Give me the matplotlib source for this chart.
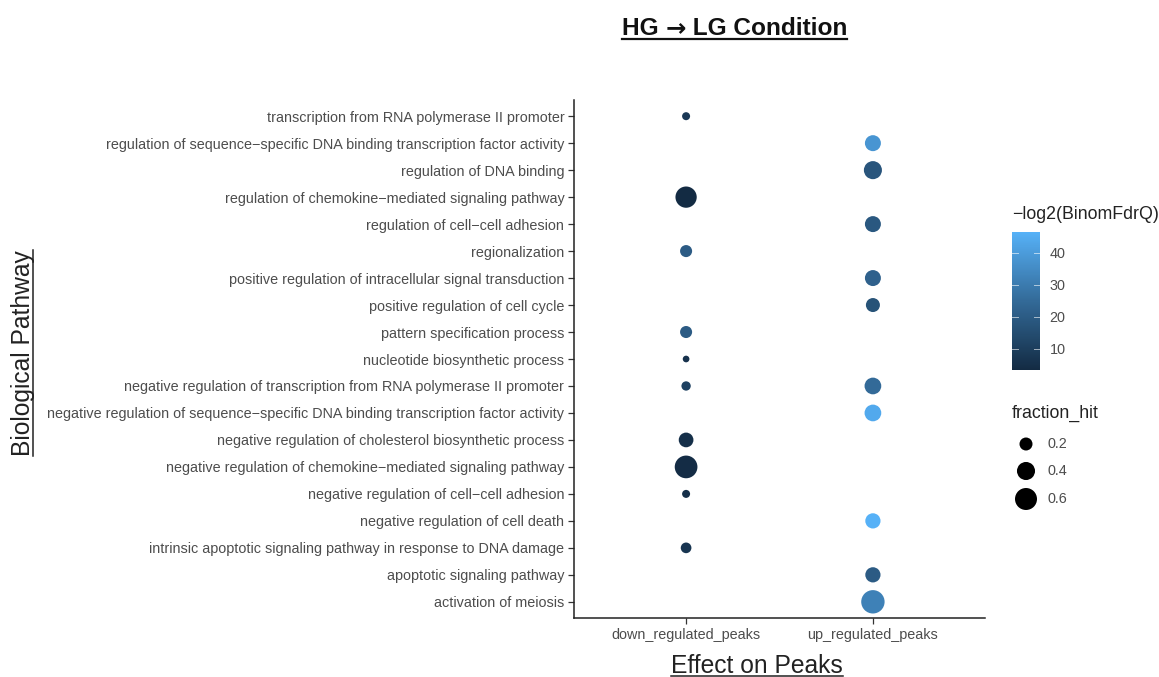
import matplotlib
matplotlib.use("Agg")
import matplotlib.pyplot as plt
import numpy as np
from matplotlib.colors import LinearSegmentedColormap, Normalize
from matplotlib.lines import Line2D

plt.rcParams['font.family'] = ['Liberation Sans', 'DejaVu Sans']

pathways = [
    "transcription from RNA polymerase II promoter",
    "regulation of sequence\u2212specific DNA binding transcription factor activity",
    "regulation of DNA binding",
    "regulation of chemokine\u2212mediated signaling pathway",
    "regulation of cell\u2212cell adhesion",
    "regionalization",
    "positive regulation of intracellular signal transduction",
    "positive regulation of cell cycle",
    "pattern specification process",
    "nucleotide biosynthetic process",
    "negative regulation of transcription from RNA polymerase II promoter",
    "negative regulation of sequence\u2212specific DNA binding transcription factor activity",
    "negative regulation of cholesterol biosynthetic process",
    "negative regulation of chemokine\u2212mediated signaling pathway",
    "negative regulation of cell\u2212cell adhesion",
    "negative regulation of cell death",
    "intrinsic apoptotic signaling pathway in response to DNA damage",
    "apoptotic signaling pathway",
    "activation of meiosis",
]
effects = ["down_regulated_peaks", "up_regulated_peaks"]

# rows (pathway index), fraction_hit and -log2(BinomFdrQ) per effect
down_idx = [0, 3, 5, 8, 9, 10, 12, 13, 14, 16]
down_frac = [0.067, 0.56, 0.17, 0.17, 0.042, 0.096, 0.26, 0.64, 0.067, 0.13]
down_q = [8, 3.4, 20, 20, 6, 11, 5, 4, 5, 7]

up_idx = [1, 2, 4, 6, 7, 10, 11, 15, 17, 18]
up_frac = [0.31, 0.40, 0.31, 0.31, 0.235, 0.34, 0.34, 0.28, 0.28, 0.68]
up_q = [38, 18, 19, 22, 17, 25, 44, 46.5, 20, 32]

size_breaks = [0.2, 0.4, 0.6]
cbar_ticks = [10, 20, 30, 40]

cmap = LinearSegmentedColormap.from_list("gg", ["#132B43", "#336A98", "#56B1F7"])
allq = down_q + up_q
norm = Normalize(vmin=min(allq), vmax=max(allq))


def area(f):
    # marker area in pt^2, linear in fraction_hit
    return (11.5 + 787 * np.asarray(f)) * 0.5184


W, H = 1159, 677
fig = plt.figure(figsize=(W / 100, H / 100), dpi=100)
ax = fig.add_axes([574 / W, 1 - 618 / H, (985 - 574) / W, (618 - 100) / H])

ax.scatter(np.zeros(len(down_idx)), down_idx, s=area(down_frac), c=down_q,
           cmap=cmap, norm=norm, edgecolors="none", zorder=3)
sc = ax.scatter(np.ones(len(up_idx)), up_idx, s=area(up_frac), c=up_q,
                cmap=cmap, norm=norm, edgecolors="none", zorder=3)

ax.set_xlim(-0.6, 1.6)
ax.set_ylim(len(pathways) - 1 + 0.6, -0.6)
ax.set_yticks(range(len(pathways)))
ax.set_yticklabels(pathways)
ax.set_xticks(range(len(effects)))
ax.set_xticklabels(effects)
ax.tick_params(axis="both", colors="#333333", labelcolor="#4D4D4D",
               labelsize=10.4, length=4, width=0.9)
ax.tick_params(axis="x", pad=3)
ax.tick_params(axis="y", pad=3)
for s in ["top", "right"]:
    ax.spines[s].set_visible(False)
for s in ["left", "bottom"]:
    ax.spines[s].set_linewidth(1.1)
    ax.spines[s].set_color("#222222")

# colorbar
cax = fig.add_axes([1012 / W, 1 - 370 / H, 28 / W, 138 / H])
cb = fig.colorbar(sc, cax=cax, ticks=cbar_ticks)
cb.outline.set_visible(False)
cax.tick_params(length=0, labelsize=10.4, labelcolor="#4D4D4D", pad=7)
for t in cbar_ticks:
    cax.plot([0, 0.2], [t, t], color="white", lw=0.7, alpha=0.6)
    cax.plot([0.8, 1.0], [t, t], color="white", lw=0.7, alpha=0.6)
fig.text(1012 / W, 1 - 219 / H, "\u2212log2(BinomFdrQ)", fontsize=12.8,
         color="#222222", va="baseline", ha="left")

# size legend
lax = fig.add_axes([1005 / W, 1 - 515 / H, 60 / W, 85 / H])
lax.set_xlim(1005, 1065)
lax.set_ylim(515, 430)
lax.axis("off")
leg_y = [444, 471, 499]
lax.scatter([1026] * 3, leg_y, s=area(size_breaks), c="black", edgecolors="none")
for yy, b in zip(leg_y, size_breaks):
    lax.text(1047, yy, f"{b:.1f}", fontsize=10.4, color="#4D4D4D", va="center")
fig.text(1012 / W, 1 - 418 / H, "fraction_hit", fontsize=12.8,
         color="#222222", va="baseline", ha="left")

# title in three pieces so the arrow can come from DejaVu Sans
r = fig.canvas.get_renderer()
inv = fig.transFigure.inverted()
pieces = [("HG ", "Liberation Sans"), ("\u2192", "DejaVu Sans"),
          (" LG Condition", "Liberation Sans")]
x = 622 / W
title_parts = []
for txt, fam in pieces:
    t = fig.text(x, 1 - 35 / H, txt, fontsize=17.6, fontweight="bold", family=fam,
                 ha="left", va="baseline", color="#111111")
    bb = t.get_window_extent(r)
    x = inv.transform([[bb.x1, bb.y0]])[0][0]
    title_parts.append(t)

xl = fig.text(757 / W, 1 - 673 / H, "Effect on Peaks", fontsize=17.7,
              ha="center", va="baseline", color="#222222")
yl = fig.text(30 / W, 1 - 353 / H, "Biological Pathway", fontsize=17.7,
              ha="center", va="baseline", rotation=90, rotation_mode="anchor",
              color="#222222")

fig.canvas.draw()
bb0 = title_parts[0].get_window_extent(r)
bb1 = title_parts[-1].get_window_extent(r)
(x0, _), (x1, _) = inv.transform([[bb0.x0, 0], [bb1.x1, 0]])
yy = 1 - 38.5 / H
fig.add_artist(Line2D([x0, x1], [yy, yy], transform=fig.transFigure,
                      color="#111111", lw=1.6))
bb = xl.get_window_extent(r)
(x0, _), (x1, _) = inv.transform([[bb.x0, 0], [bb.x1, 0]])
yy = 1 - 676 / H
fig.add_artist(Line2D([x0, x1], [yy, yy], transform=fig.transFigure,
                      color="#222222", lw=1.1))
bb = yl.get_window_extent(r)
(_, y0), (_, y1) = inv.transform([[0, bb.y0], [0, bb.y1]])
xx = 33 / W
fig.add_artist(Line2D([xx, xx], [y0, y1], transform=fig.transFigure,
                      color="#222222", lw=1.1))

fig.savefig("out.png", dpi=100)
